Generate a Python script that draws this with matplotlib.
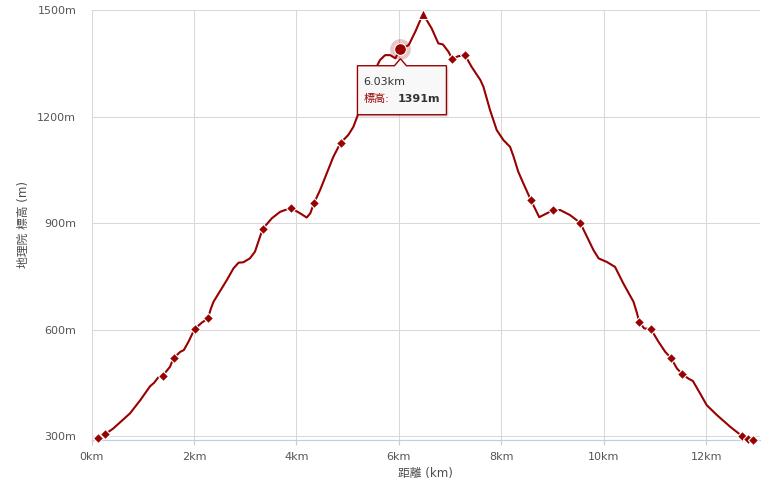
import matplotlib
matplotlib.use("Agg")
import matplotlib.pyplot as plt
import matplotlib.transforms as mtransforms
from matplotlib.patches import Polygon

plt.rcParams['font.family'] = ['DejaVu Sans', 'Noto Sans CJK JP']

# elevation profile (km, m)
dist_km = [0.12, 0.26, 0.42, 0.75, 0.95, 1.14, 1.22, 1.30, 1.39, 1.53, 1.60, 1.73, 1.80, 1.89,
           2.01, 2.15, 2.27, 2.33, 2.38, 2.64, 2.77, 2.87, 2.96, 3.09, 3.19, 3.34, 3.52, 3.68,
           3.89, 4.07, 4.20, 4.27, 4.34, 4.46, 4.59, 4.72, 4.86, 5.01, 5.11, 5.21, 5.37, 5.50,
           5.63, 5.73, 5.83, 5.93, 6.03, 6.19, 6.32, 6.47, 6.64, 6.77, 6.86, 6.97, 7.04, 7.16,
           7.29, 7.42, 7.59, 7.65, 7.78, 7.91, 8.04, 8.17, 8.24, 8.33, 8.43, 8.58, 8.74, 8.89,
           9.01, 9.15, 9.34, 9.54, 9.80, 9.90, 10.06, 10.22, 10.38, 10.58, 10.65, 10.69, 10.79,
           10.92, 11.07, 11.20, 11.31, 11.43, 11.53, 11.65, 11.74, 11.88, 12.01, 12.21, 12.47,
           12.70, 12.81, 12.92]
elev_m = [296, 306, 322, 365, 402, 441, 451, 466, 471, 496, 520, 538, 543, 566,
          602, 620, 632, 660, 679, 740, 773, 789, 790, 801, 820, 884, 914, 932,
          943, 928, 916, 928, 956, 993, 1040, 1087, 1126, 1148, 1171, 1209, 1275, 1322,
          1359, 1373, 1373, 1364, 1391, 1401, 1439, 1489, 1448, 1406, 1403, 1382, 1362, 1370,
          1373, 1340, 1303, 1284, 1218, 1162, 1134, 1115, 1087, 1045, 1012, 964, 917, 928,
          937, 937, 923, 901, 824, 801, 791, 777, 731, 679, 646, 622, 604,
          602, 566, 538, 521, 491, 476, 463, 456, 421, 388, 360, 327,
          301, 293, 289]

# waypoints (diamonds)
wp_km = [0.12, 0.26, 1.39, 1.60, 2.01, 2.27, 3.34, 3.89, 4.34, 4.86, 7.04, 7.29,
         8.58, 9.01, 9.54, 10.69, 10.92, 11.31, 11.53, 12.70, 12.81, 12.92]
wp_m = [296, 306, 471, 520, 602, 632, 884, 943, 956, 1126, 1362, 1373,
        964, 937, 901, 622, 602, 521, 476, 301, 293, 289]

peak_km, peak_m = 6.47, 1489
hover_km, hover_m = 6.03, 1391

x_ticks = [0, 2, 4, 6, 8, 10, 12]
y_ticks = [300, 600, 900, 1200, 1500]

RED = '#990000'

fig = plt.figure(figsize=(7.7, 5), dpi=100, facecolor='white')
ax = fig.add_axes([91.6 / 770, 60 / 500, (760 - 91.6) / 770, 430 / 500])

ax.plot(dist_km, elev_m, color=RED, lw=1.5, zorder=3)
ax.plot(wp_km, wp_m, ls='none', marker='D', ms=5.0, color=RED,
        mec='white', mew=0.8, zorder=4, clip_on=False)
ax.plot([peak_km], [peak_m], ls='none', marker='^', ms=7, color=RED,
        mec='white', mew=0.8, zorder=4)

# hovered point
ax.plot([hover_km], [hover_m], ls='none', marker='o', ms=15, color=RED, alpha=0.22, mew=0, zorder=5)
ax.plot([hover_km], [hover_m], ls='none', marker='o', ms=8.5, color=RED, mec='white', mew=0.8, zorder=6)

ax.set_xlim(0, 13.05)
ax.set_ylim(290, 1500)
ax.set_xticks(x_ticks)
ax.set_xticklabels([f'{v}km' for v in x_ticks])
ax.set_yticks(y_ticks)
ax.set_yticklabels([f'{v}m' for v in y_ticks])

ax.grid(True, color='#d8d8d8', lw=0.75)
ax.set_axisbelow(True)
for s in ['top', 'right', 'left']:
    ax.spines[s].set_visible(False)
ax.spines['bottom'].set_color('#c0d0e0')
ax.spines['bottom'].set_linewidth(0.9)
ax.tick_params(axis='x', colors='#c0d0e0', length=3.5, width=0.9, pad=5, labelsize=8, labelcolor='#555555')
ax.tick_params(axis='y', length=0, pad=11, labelsize=8, labelcolor='#555555')

ax.set_xlabel('距離 (km)', fontsize=8.5, color='#4d4d4d', labelpad=4)
ax.set_ylabel('地理院 標高 (m)', fontsize=8.5, color='#4d4d4d', labelpad=5)

# tooltip, drawn in pixel offsets from the hovered point
tt = mtransforms.Affine2D() + mtransforms.ScaledTranslation(hover_km, hover_m, ax.transData)
box = [(-43, -17), (-6, -17), (0, -10), (6, -17), (46, -17), (46, -66), (-43, -66)]
shadow = Polygon([(x + 2, y - 2) for x, y in box], closed=True, transform=tt,
                 facecolor='#000000', alpha=0.12, edgecolor='none', zorder=7, clip_on=False)
ax.add_patch(shadow)
ax.add_patch(Polygon(box, closed=True, transform=tt, facecolor='#f8f8f8',
                     edgecolor=RED, lw=1, zorder=8, clip_on=False))
ax.text(-37, -33, f'{hover_km:.2f}km', transform=tt, fontsize=8, color='#333333',
        va='center', ha='left', zorder=9)
ax.text(-37, -50, '標高:', transform=tt, fontsize=8, color=RED,
        va='center', ha='left', zorder=9)
ax.text(-3, -50, f'{hover_m}m', transform=tt, fontsize=8, color='#333333',
        fontweight='bold', va='center', ha='left', zorder=9)

fig.savefig('out.png', dpi=100, facecolor='white')
